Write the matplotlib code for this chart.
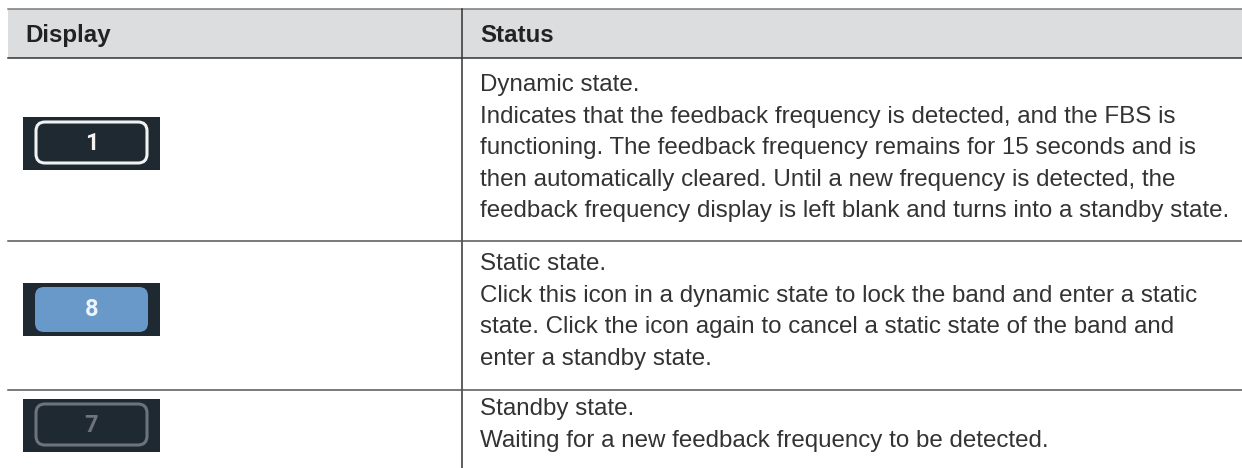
import matplotlib.pyplot as plt
from matplotlib.patches import Rectangle, FancyBboxPatch

plt.rcParams['font.family'] = ['Liberation Sans', 'DejaVu Sans']

# table content
headers = ["Display", "Status"]
icon_labels = ["1", "8", "7"]
icon_styles = ["dynamic", "static", "standby"]
status_lines = [
    ["Dynamic state.",
     "Indicates that the feedback frequency is detected, and the FBS is",
     "functioning. The feedback frequency remains for 15 seconds and is",
     "then automatically cleared. Until a new frequency is detected, the",
     "feedback frequency display is left blank and turns into a standby state."],
    ["Static state.",
     "Click this icon in a dynamic state to lock the band and enter a static",
     "state. Click the icon again to cancel a static state of the band and",
     "enter a standby state."],
    ["Standby state.",
     "Waiting for a new feedback frequency to be detected."],
]

# layout (pixel units)
W, H = 1242, 468
left, split = 8, 462
head_top, head_bot = 9, 58
row_bottoms = [241, 390, H]
first_baseline = [91, 270, 415]
line_step = 31.6
icon_top = [117, 283, 399]

fig = plt.figure(figsize=(W / 100, H / 100), dpi=100)
ax = fig.add_axes([0, 0, 1, 1])
ax.set_xlim(0, W)
ax.set_ylim(H, 0)
ax.axis('off')

text_col = '#333333'
lw = 1.1

# header
ax.add_patch(Rectangle((left, head_top), W - left, head_bot - head_top,
                       facecolor='#dcdddf', edgecolor='none'))
ax.plot([left, W], [head_top, head_top], color='#7a7a7a', lw=lw)
ax.plot([left, W], [head_bot, head_bot], color='#333333', lw=lw)
ax.text(25, 42, headers[0], fontsize=17.4, fontweight='bold', color='#222222', va='baseline')
ax.text(480, 42, headers[1], fontsize=17.4, fontweight='bold', color='#222222', va='baseline')

# grid lines
ax.plot([split, split], [head_top, H], color='#333333', lw=lw)
for yb in row_bottoms[:-1]:
    ax.plot([left, W], [yb, yb], color='#555555', lw=lw)

# status text
for i, lines in enumerate(status_lines):
    for j, s in enumerate(lines):
        ax.text(480, first_baseline[i] + j * line_step, s, fontsize=17.4,
                color=text_col, va='baseline')

# icons
bg = '#1f2931'
for i, (lab, st) in enumerate(zip(icon_labels, icon_styles)):
    x0, y0 = 23, icon_top[i]
    ax.add_patch(Rectangle((x0, y0), 137, 53, facecolor=bg, edgecolor='none'))
    if st == 'dynamic':
        box = FancyBboxPatch((x0 + 13, y0 + 5), 111, 41,
                             boxstyle='round,pad=0,rounding_size=9',
                             facecolor=bg, edgecolor='#f2f2f2', lw=2.2)
        tc = '#f2f2f2'
    elif st == 'static':
        box = FancyBboxPatch((x0 + 12, y0 + 4), 113, 45,
                             boxstyle='round,pad=0,rounding_size=9',
                             facecolor='#6899c9', edgecolor='none')
        tc = '#eef3f8'
    else:
        box = FancyBboxPatch((x0 + 13, y0 + 5), 111, 41,
                             boxstyle='round,pad=0,rounding_size=9',
                             facecolor=bg, edgecolor='#6c737a', lw=2.2)
        tc = '#6c737a'
    ax.add_patch(box)
    ax.text(x0 + 68.5, y0 + 27, lab, fontsize=17, fontweight='bold',
            color=tc, ha='center', va='center', family='Roboto')

fig.savefig('out.png', dpi=100)
